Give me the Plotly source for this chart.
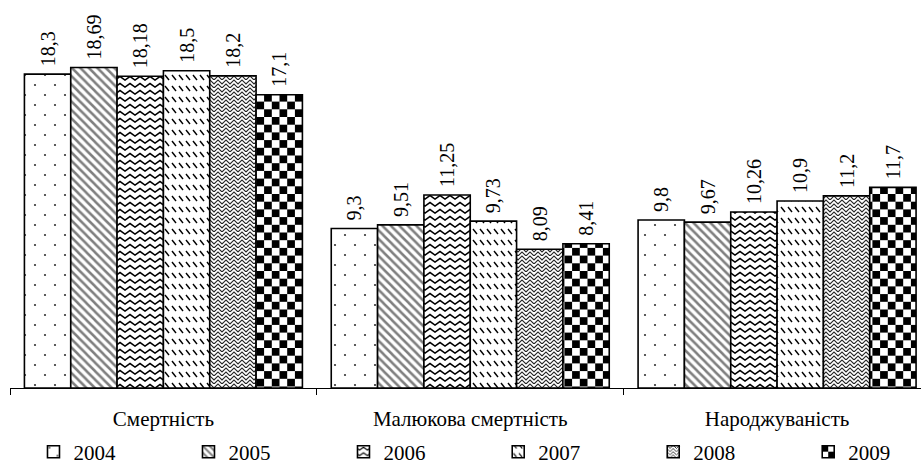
import plotly.graph_objects as go

# Demographic indicators per 1000 population, 2004-2009
categories = ["Смертність", "Малюкова смертність", "Народжуваність"]
years = ["2004", "2005", "2006", "2007", "2008", "2009"]
values = {
    "2004": [18.3, 9.3, 9.8],
    "2005": [18.69, 9.51, 9.67],
    "2006": [18.18, 11.25, 10.26],
    "2007": [18.5, 9.73, 10.9],
    "2008": [18.2, 8.09, 11.2],
    "2009": [17.1, 8.41, 11.7],
}

# base hatch fill for each year (shape, tile size, solidity)
patterns = {
    "2004": (".", 12, 0.03),
    "2005": ("\\", 6, 0.42),
    "2006": ("-", 6, 0.35),
    "2007": ("\\", 9, 0.2),
    "2008": ("x", 6, 0.3),
    "2009": ("+", 14, 0.55),
}

FONT = "Liberation Serif"

fig = go.Figure()
for i, y in enumerate(years):
    shape, size, solid = patterns[y]
    fig.add_trace(go.Bar(
        name=y,
        uid="yr" + y,
        legend="legend" if i < 3 else "legend2",
        x=categories,
        y=values[y],
        text=["\u00a0" + str(v).replace(".", ",") for v in values[y]],
        textposition="outside",
        textangle=-90,
        constraintext="none",
        cliponaxis=False,
        textfont=dict(family=FONT, size=20, color="black"),
        marker=dict(
            color="white",
            line=dict(color="black", width=1.6),
            pattern=dict(shape=shape, size=size, solidity=solid,
                         fgcolor="black", bgcolor="white"),
        ),
    ))

legend_style = dict(
    orientation="h", xanchor="left", y=-0.184, yanchor="middle",
    entrywidth=110, entrywidthmode="pixels", itemwidth=30,
    font=dict(family=FONT, size=21, color="black"),
    traceorder="normal",
)

fig.update_layout(
    width=921, height=466,
    margin=dict(l=9.5, r=0, t=40, b=78, autoexpand=False),
    paper_bgcolor="white", plot_bgcolor="white",
    barmode="group", bargap=0.094, bargroupgap=0,
    font=dict(family=FONT, size=20, color="black"),
    showlegend=True,
    legend=dict(x=(33 - 9.5) / 911.5, **legend_style),
    legend2=dict(x=(33 + 465 - 9.5) / 911.5, **legend_style),
    xaxis=dict(
        type="category", range=[-0.5, -0.5 + 911.5 / 307],
        showline=True, linecolor="black", linewidth=1.3,
        ticks="outside", ticklen=6, tickcolor="black", tickwidth=1.3,
        tickson="boundaries", showgrid=False, ticklabelstandoff=12,
        tickfont=dict(family=FONT, size=21, color="black"),
    ),
    yaxis=dict(range=[0, 348 / 17.15], visible=False, showgrid=False),
)

# Finer hatch tiles (dots, zigzag, dashed diagonal, herringbone, checkerboard)
tiles_js = r"""
var tiles = {
  "yr2004": [20, 20, '<rect width="20" height="20" fill="white"/>' +
             '<circle cx="5" cy="5" r="1.1" fill="#333"/><circle cx="15" cy="15" r="1.1" fill="#333"/>'],
  "yr2006": [10, 7, '<rect width="10" height="7" fill="white"/>' +
             '<path d="M-2.5,3.5 L0,1.5 L5,5 L10,1.5 L12.5,3.5" stroke="black" stroke-width="1.5" fill="none"/>'],
  "yr2007": [7, 11, '<rect width="7" height="11" fill="white"/>' +
             '<path d="M1,2 L5,7" stroke="black" stroke-width="1.4" fill="none"/>'],
  "yr2008": [8, 8, '<rect width="8" height="8" fill="white"/>' +
             '<path d="M-1,-1 L4,4 L9,-1 M-1,3 L4,8 L9,3 M-1,7 L4,12 L9,7" stroke="#222" stroke-width="1.1" fill="none"/>'],
  "yr2009": [15.4, 15.4, '<rect width="15.4" height="15.4" fill="white"/>' +
             '<rect x="0" y="0" width="7.7" height="7.7" fill="black"/>' +
             '<rect x="7.7" y="7.7" width="7.7" height="7.7" fill="black"/>']
};
document.querySelectorAll('pattern').forEach(function(p) {
  for (var key in tiles) {
    if (p.id.indexOf(key) >= 0) {
      var t = tiles[key];
      p.setAttribute('width', t[0]);
      p.setAttribute('height', t[1]);
      p.setAttribute('patternUnits', 'userSpaceOnUse');
      p.innerHTML = t[2];
    }
  }
});
"""

fig.write_html("out.html", post_script=tiles_js)
